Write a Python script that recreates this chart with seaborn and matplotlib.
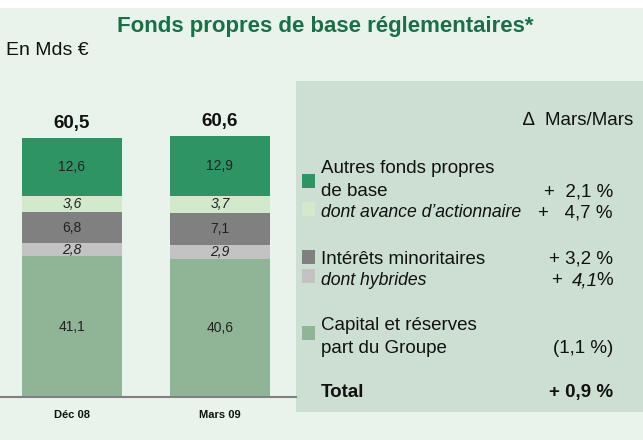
import matplotlib
matplotlib.use('Agg')
import matplotlib.pyplot as plt
import seaborn as sns
from matplotlib.patches import Rectangle

# Data (Mds EUR)
periods = ['Déc 08', 'Mars 09']
autres = [12.6, 12.9]
avance = [3.6, 3.7]
minoritaires = [6.8, 7.1]
hybrides = [2.8, 2.9]
capital = [41.1, 40.6]
totaux = [60.5, 60.6]

# Variation Mars/Mars
var_autres = '+  2,1 %'
var_avance = '+   4,7 %'
var_minor = '+ 3,2 %'
var_hybr = '4,1'
var_capital = '(1,1 %)'
var_total = '+ 0,9 %'

c_autres = '#2e9464'
c_avance = '#d2e9cc'
c_minor = '#808080'
c_hybr = '#c3c3c3'
c_capital = '#8fb596'
c_bg = '#e8f3eb'
c_panel = '#ccdfd2'
c_title = '#1b6e48'
c_txt = '#111111'

sns.set_style('white')
plt.rcParams['font.family'] = ['Liberation Sans', 'DejaVu Sans']

W, H = 643, 440
fig = plt.figure(figsize=(W / 100, H / 100), dpi=100)
fig.patch.set_facecolor('white')


def fx(x):
    return x / W


def fy(y):
    return 1 - y / H


def box(x0, y0, x1, y1, color, z=-5):
    fig.add_artist(Rectangle((fx(x0), fy(y1)), fx(x1 - x0), (y1 - y0) / H,
                             transform=fig.transFigure, facecolor=color,
                             edgecolor='none', zorder=z))


box(0, 8, W, H, c_bg, z=-10)
box(296, 81, W, 412, c_panel, z=-6)

# stacked bars drawn as cumulative layers
y_floor = 10.5
ax = fig.add_axes([0, 43 / H, 296 / W, 287 / H])
ax.set_facecolor('none')

layers = [(capital, c_capital, False), (hybrides, c_hybr, True),
          (minoritaires, c_minor, False), (avance, c_avance, True),
          (autres, c_autres, False)]
cum = []
run = [0.0, 0.0]
for vals, col, it in layers:
    bottoms = run[:]
    run = [r + v for r, v in zip(run, vals)]
    cum.append((bottoms, run[:], vals, col, it))

for bottoms, tops, vals, col, it in reversed(cum):
    sns.barplot(x=periods, y=tops, color=col, saturation=1, width=0.676,
                linewidth=0, ax=ax)

for bottoms, tops, vals, col, it in cum:
    for i in range(len(periods)):
        mid = (max(bottoms[i], y_floor) + tops[i]) / 2
        ax.text(i, mid, f'{vals[i]:.1f}'.replace('.', ','), ha='center',
                va='center', fontsize=10, style='italic' if it else 'normal',
                color='#222222')

for i, t in enumerate(totaux):
    ax.annotate(f'{t:.1f}'.replace('.', ','), (i, run[i]), xytext=(0, 7),
                textcoords='offset points', ha='center', va='baseline',
                fontsize=13.5, fontweight='bold', color=c_txt)

ax.set_xlim(-0.486, 1.514)
ax.set_ylim(y_floor, y_floor + 287 / 4.6)
ax.set_yticks([])
ax.set_xlabel('')
ax.set_ylabel('')
for s in ['top', 'left', 'right']:
    ax.spines[s].set_visible(False)
ax.spines['bottom'].set_color('#808080')
ax.spines['bottom'].set_linewidth(1.5)
ax.tick_params(axis='x', length=0, pad=9)
ax.set_xticks(range(len(periods)))
ax.set_xticklabels(periods, fontsize=8, fontweight='bold', color=c_txt)

# titles
fig.text(fx(325), fy(32), 'Fonds propres de base réglementaires*', ha='center',
         va='baseline', fontsize=16, fontweight='bold', color=c_title)
fig.text(fx(6), fy(55), 'En Mds €', ha='left', va='baseline', fontsize=14,
         color=c_txt)

# panel legend
fig.text(fx(633), fy(125), '∆  Mars/Mars', ha='right', va='baseline',
         fontsize=13.5, color=c_txt)

for y0, col in [(174, c_autres), (202, c_avance), (250, c_minor),
                (269, c_hybr), (326, c_capital)]:
    box(302, y0, 315, y0 + 14, col, z=-4)

tx, rx = 321, 613
rows = [
    (173, 'Autres fonds propres', None, 'normal', 'normal'),
    (196, 'de base', var_autres, 'normal', 'normal'),
    (217, 'dont avance d’actionnaire', var_avance, 'italic', 'normal'),
    (264, 'Intérêts minoritaires', var_minor, 'normal', 'normal'),
    (285, 'dont hybrides', None, 'italic', 'normal'),
    (330, 'Capital et réserves', None, 'normal', 'normal'),
    (353, 'part du Groupe', var_capital, 'normal', 'normal'),
    (397, 'Total', var_total, 'normal', 'bold'),
]
for y, lab, v, st, wt in rows:
    fig.text(fx(tx), fy(y), lab, ha='left', va='baseline',
             fontsize=12.7 if st == 'italic' else 13.5,
             style=st, fontweight=wt, color=c_txt)
    if v:
        fig.text(fx(rx), fy(y), v, ha='right', va='baseline', fontsize=13.5,
                 fontweight=wt, color=c_txt)

fig.text(fx(rx), fy(285), '%', ha='right', va='baseline', fontsize=13.5,
         color=c_txt)
fig.text(fx(598), fy(285), var_hybr, ha='right', va='baseline', fontsize=13.5,
         style='italic', color=c_txt)
fig.text(fx(551), fy(285), '+', ha='left', va='baseline', fontsize=13.5,
         color=c_txt)

fig.savefig('out.png', dpi=100)
